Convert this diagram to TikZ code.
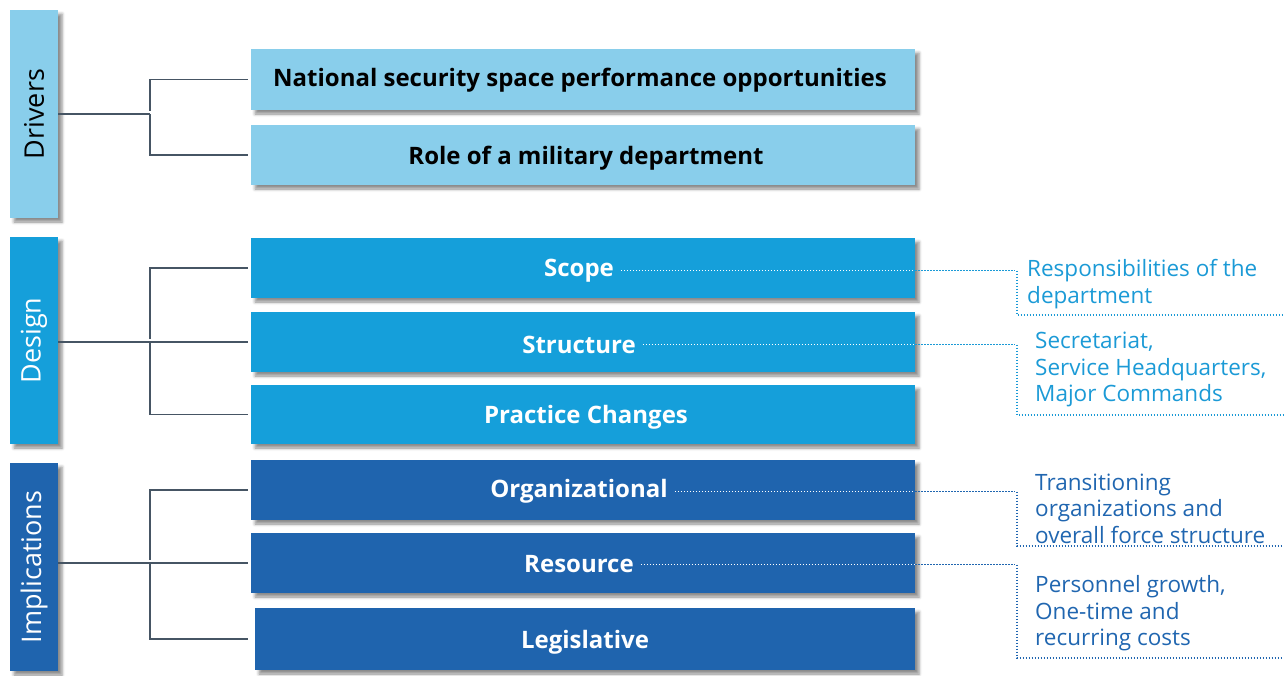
\documentclass[tikz,border=0pt]{standalone}
\usepackage{fontspec}
\setmainfont{Open Sans}
\usetikzlibrary{shadows.blur}
\definecolor{cLight}{RGB}{137,206,235}
\definecolor{cMid}{RGB}{21,159,218}
\definecolor{cDark}{RGB}{31,100,174}
\definecolor{lineC}{RGB}{70,85,100}
\definecolor{tMid}{RGB}{27,154,214}
\definecolor{tDark}{RGB}{32,102,176}
\begin{document}
\begin{tikzpicture}[x=1pt,y=-1pt,
  shad/.style={blur shadow={shadow xshift=4pt,shadow yshift=-4pt,shadow blur radius=3pt,shadow opacity=45}},
  sidebox/.style={shad,minimum width=48pt,minimum height=208pt,inner sep=0pt,font=\fontsize{27}{30}\selectfont},
  mainbox/.style={shad,minimum width=664pt,minimum height=60pt,inner sep=0pt},
  boxtext/.style={font=\fontsize{24}{28}\selectfont\bfseries,inner sep=2pt,yshift=-2.5pt},
  note/.style={anchor=west,align=left,inner sep=0pt,font=\fontsize{22.5}{26.5}\selectfont},
  conn/.style={draw=lineC,line width=1.1pt,shorten >=3pt},
  dotline/.style={line width=1.5pt,dash pattern=on 1.3pt off 1.7pt}
]
\useasboundingbox (0,0) rectangle (1287,675);

% side boxes
\node[sidebox,fill=cLight] (drivers) at (34,114) {\rotatebox{90}{Drivers}};
\node[sidebox,fill=cMid,minimum height=207pt,text=white] (design) at (34,340.5) {\rotatebox{90}{Design}};
\node[sidebox,fill=cDark,text=white] (impl) at (34,567) {\rotatebox{90}{Implications}};

% main boxes
\node[mainbox,fill=cLight,minimum height=61pt] (national) at (583,79.5) {};
\node[boxtext] (nationalT) at (580,78) {National security space performance opportunities};
\node[mainbox,fill=cLight] (role) at (583,155) {};
\node[boxtext] (roleT) at (586,156) {Role of a military department};

\node[mainbox,fill=cMid] (scope) at (583,268) {};
\node[boxtext,text=white] (scopeT) at (579,268) {Scope};
\node[mainbox,fill=cMid] (structure) at (583,342) {};
\node[boxtext,text=white] (structureT) at (579,342) {Structure};
\node[mainbox,fill=cMid,minimum height=59pt] (practice) at (583,414.5) {};
\node[boxtext,text=white] (practiceT) at (586,415) {Practice Changes};

\node[mainbox,fill=cDark] (org) at (583,490) {};
\node[boxtext,text=white] (orgT) at (579,489) {Organizational};
\node[mainbox,fill=cDark] (res) at (583,563) {};
\node[boxtext,text=white] (resT) at (579,562) {Resource};
\node[mainbox,fill=cDark,minimum width=660pt,minimum height=62pt] (leg) at (585,639) {};
\node[boxtext,text=white] (legT) at (585,640) {Legislative};

% tree connectors
\coordinate (dj) at (150,114);
\draw[conn,shorten >=0pt] (drivers.east) -- (dj);
\draw[conn,shorten <=3pt] (national.west) -| (dj);
\draw[conn] (dj) |- (role.west);

\coordinate (sj) at (150,342);
\draw[conn] (design.east |- structure.west) -- (structure.west);
\draw[conn,shorten <=3pt] (scope.west) -| (sj);
\draw[conn] (sj) |- (practice.west);

\coordinate (ij) at (150,563);
\draw[conn] (impl.east |- res.west) -- (res.west);
\draw[conn,shorten <=3pt] (org.west) -| (ij);
\draw[conn,shorten >=7pt] (ij) |- (leg.west);

% dotted leaders
\coordinate (a1) at (1015,268); \coordinate (a2) at (1017,268); \coordinate (a3) at (1017,315); \coordinate (a4) at (1283,315);
\draw[dotline,draw=white,shorten <=5pt] (scopeT.east) -- (scope.east |- scopeT.east);
\draw[dotline,draw=tMid] (scope.east |- scopeT.east) -- (a1 |- scopeT.east) (a2 |- scopeT.east) -- (a3) -- (a4);
\node[note,text=tMid] (n1) at (1027,284) {Responsibilities of the\\department};

\coordinate (b1) at (1015,342); \coordinate (b2) at (1017,342); \coordinate (b3) at (1017,415); \coordinate (b4) at (1283,415);
\draw[dotline,draw=white,shorten <=5pt] (structureT.east) -- (structure.east |- structureT.east);
\draw[dotline,draw=tMid] (structure.east |- structureT.east) -- (b1 |- structureT.east) (b2 |- structureT.east) -- (b3) -- (b4);
\node[note,text=tMid] (n2) at (1035,369.5) {Secretariat,\\Service Headquarters,\\Major Commands};

\coordinate (c1) at (1015,489); \coordinate (c2) at (1017,489); \coordinate (c3) at (1017,546); \coordinate (c4) at (1283,546);
\draw[dotline,draw=white,shorten <=5pt] (orgT.east) -- (org.east |- orgT.east);
\draw[dotline,draw=tDark] (org.east |- orgT.east) -- (c1 |- orgT.east) (c2 |- orgT.east) -- (c3) -- (c4);
\node[note,text=tDark] (n3) at (1035,508.5) {Transitioning\\organizations and\\overall force structure};

\coordinate (d1) at (1015,563); \coordinate (d2) at (1017,563); \coordinate (d3) at (1017,658); \coordinate (d4) at (1283,658);
\draw[dotline,draw=white,shorten <=5pt] (resT.east) -- (res.east |- resT.east);
\draw[dotline,draw=tDark] (res.east |- resT.east) -- (d1 |- resT.east) (d2 |- resT.east) -- (d3) -- (d4);
\node[note,text=tDark] (n4) at (1035,613.5) {Personnel growth,\\One-time and\\recurring costs};
\end{tikzpicture}
\end{document}
